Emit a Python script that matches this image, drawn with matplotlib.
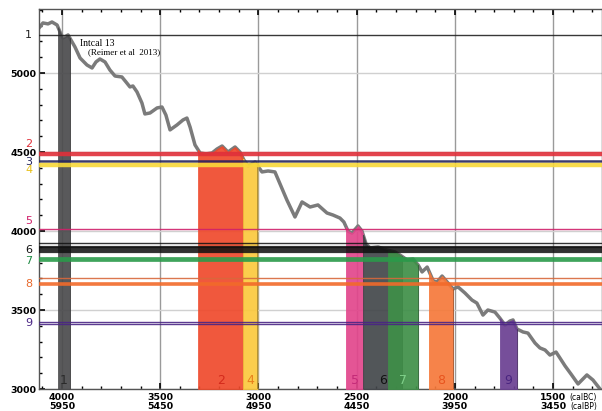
import numpy as np
import matplotlib
matplotlib.use("Agg")
import matplotlib.pyplot as plt
import matplotlib.transforms as mtransforms

# IntCal13 curve (cal BC, 14C BP)
curve_bc = [4117, 4097, 4071, 4051, 4025, 4010, 3995, 3969, 3934, 3908, 3873, 3847,
            3827, 3807, 3781, 3756, 3730, 3695, 3674, 3654, 3639, 3618, 3593, 3578,
            3552, 3516, 3491, 3471, 3450, 3415, 3384, 3364, 3348, 3323, 3297, 3267,
            3236, 3211, 3185, 3155, 3119, 3094, 3074, 3053, 3017, 2982, 2951, 2916,
            2890, 2855, 2814, 2778, 2737, 2697, 2651, 2620, 2585, 2565, 2544, 2524,
            2493, 2473, 2452, 2432, 2391, 2345, 2304, 2279, 2243, 2213, 2187, 2167,
            2141, 2110, 2091, 2065, 2035, 2010, 1984, 1949, 1913, 1888, 1857, 1832,
            1796, 1771, 1745, 1720, 1704, 1684, 1653, 1628, 1592, 1567, 1541, 1516,
            1485, 1465, 1439, 1409, 1373, 1328, 1297, 1261]
curve_c14 = [5285, 5317, 5311, 5323, 5304, 5260, 5222, 5241, 5165, 5095, 5051, 5032,
             5070, 5089, 5070, 5019, 4981, 4975, 4943, 4912, 4918, 4880, 4810, 4741,
             4747, 4779, 4785, 4734, 4640, 4671, 4703, 4715, 4658, 4545, 4494, 4488,
             4494, 4519, 4538, 4500, 4532, 4500, 4450, 4412, 4437, 4374, 4380, 4374,
             4298, 4196, 4089, 4184, 4152, 4165, 4114, 4101, 4082, 4057, 4000, 3987,
             4032, 4000, 3918, 3893, 3899, 3880, 3867, 3848, 3817, 3823, 3785, 3741,
             3772, 3684, 3677, 3715, 3671, 3633, 3646, 3608, 3563, 3544, 3468, 3500,
             3487, 3449, 3405, 3430, 3437, 3380, 3361, 3354, 3291, 3260, 3247, 3215,
             3234, 3196, 3146, 3095, 3032, 3089, 3057, 3000]

# calibrated ranges (cal BC)
band_names = ["1", "2", "4", "5", "6", "7", "8", "9"]
band_start = [4020, 3307, 3078, 2554, 2467, 2340, 2132, 1770]
band_end = [3960, 3078, 3005, 2467, 2269, 2187, 2009, 1683]
band_colors = ["#4b4b4d", "#ef4a2c", "#fbc93e", "#e2468c", "#43474b", "#3f8f48", "#f6793a", "#6a3f92"]
band_label_colors = ["#2a2a2a", "#d42a1c", "#e8801c", "#c42a78", "#111111", "#7fd08a", "#e8541e", "#4a2580"]

# radiocarbon dates (14C BP)
date_names = ["1", "2", "3", "4", "5", "6", "7", "8", "9"]
date_values = [5240, 4490, 4443, 4415, 4013, 3890, 3820, 3680, 3418]
date_colors = ["#222222", "#e0303a", "#25255e", "#e8c018", "#d0206a", "#111111", "#1f8a44", "#e8692c", "#4a2585"]
date_label_y = [5240, 4552, 4440, 4385, 4062, 3880, 3810, 3662, 3418]

x_major = [4000, 3500, 3000, 2500, 2000, 1500]
x_bp = [5950, 5450, 4950, 4450, 3950, 3450]
y_major = [3000, 3500, 4000, 4500, 5000]

fig = plt.figure(figsize=(6.02, 4.11), dpi=100)
ax = fig.add_axes([0.0648, 0.0535, 0.9352, 0.9245])

bc = np.array(curve_bc)
c14 = np.array(curve_c14)

ax.plot(bc, c14, color="#7b7b7b", lw=2.5, zorder=2, solid_joinstyle="round")

# bands under the curve
for lo, hi, col in zip(band_start, band_end, band_colors):
    xs = np.linspace(hi, lo, 60)
    ys = np.interp(xs, bc[::-1], c14[::-1])
    ax.fill_between(xs, 3000, ys, color=col, alpha=0.92, lw=0.6,
                    edgecolor=col, zorder=3)
    ax.plot([hi, hi], [3000, np.interp(hi, bc[::-1], c14[::-1])],
            color="black", lw=0.5, alpha=0.4, zorder=3)

# horizontal dates
hl = dict(zorder=4, alpha=0.9)
ax.axhline(date_values[0], color=date_colors[0], lw=1.0, **hl)
ax.axhline(date_values[1], color=date_colors[1], lw=3.2, **hl)
ax.axhline(date_values[2], color=date_colors[2], lw=1.8, **hl)
ax.axhline(date_values[3], color="#f8d83a", lw=3.2, **hl)
ax.axhline(date_values[4], color=date_colors[4], lw=1.0, **hl)
for v, w in [(3925, 1.0), (3902, 1.6), (3890, 1.6), (3878, 1.6), (3865, 1.6)]:
    ax.axhline(v, color="#111111", lw=w, zorder=4, alpha=0.85)
ax.axhline(date_values[6], color="#2a9a4a", lw=3.4, **hl)
ax.axhline(3702, color="#d8683c", lw=1.0, **hl)
ax.axhline(3662, color="#f26a2a", lw=2.6, **hl)
ax.axhline(3427, color=date_colors[8], lw=1.0, **hl)
ax.axhline(3410, color=date_colors[8], lw=1.0, **hl)

ax.set_xlim(4117, 1251)
ax.set_ylim(3000, 5405)

ax.set_xticks(x_major)
ax.set_xticklabels([f"{a}\n{b}" for a, b in zip(x_major, x_bp)],
                   fontsize=6.8, fontweight="bold", linespacing=1.0)
ax.set_xticks(np.arange(1300, 4101, 100), minor=True)
ax.set_yticks(y_major)
ax.set_yticklabels([str(v) for v in y_major], fontsize=6.8, fontweight="bold")
ax.set_yticks(np.arange(3100, 5401, 100), minor=True)
ax.tick_params(axis="both", which="major", direction="in", length=4, width=1.2,
               top=True, pad=2)
ax.tick_params(axis="both", which="minor", direction="in", length=2.5, width=1.0,
               top=True)
ax.tick_params(axis="x", pad=3)

ax.grid(axis="x", color="#9a9a9a", lw=1.0, zorder=1)
ax.grid(axis="y", color="#d0d0d0", lw=1.0, zorder=1)
ax.set_axisbelow(True)
for s in ax.spines.values():
    s.set_color("#555555")
    s.set_linewidth(1.0)

# date numbers on the left
trans = mtransforms.blended_transform_factory(ax.transAxes, ax.transData)
for name, yv, col in zip(date_names, date_label_y, date_colors):
    ax.text(-0.012, yv, name, transform=trans, ha="right", va="center",
            color=col, fontsize=8, clip_on=False)

# band numbers at the bottom
trans2 = mtransforms.blended_transform_factory(ax.transData, ax.transAxes)
for name, lo, hi, col in zip(band_names, band_start, band_end, band_label_colors):
    ax.text((lo + hi) / 2, 0.005, name, transform=trans2, ha="center", va="bottom",
            color=col, fontsize=9, zorder=6)

ax.text(3910, 5184, "Intcal 13", family="Liberation Serif", fontsize=7, va="center", zorder=6)
ax.text(3868, 5133, "(Reimer et al  2013)", family="Liberation Serif", fontsize=6.5,
        va="center", zorder=6)

fig.text(0.992, 0.034, "(calBC)", ha="right", va="center", fontsize=5.5)
fig.text(0.992, 0.012, "(calBP)", ha="right", va="center", fontsize=5.5)

fig.savefig("out.png", dpi=100)
